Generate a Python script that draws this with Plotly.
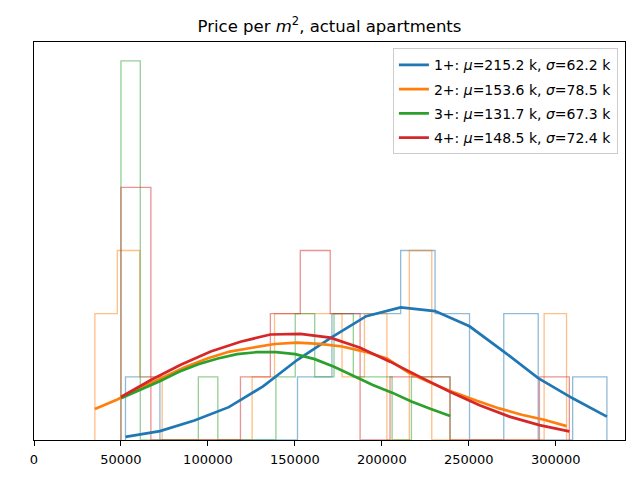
import plotly.graph_objects as go

# ---- data (counts per bin, fitted curve at bin edges) ----
blue_edges = [52600, 72400, 92200, 112000, 131700, 151500, 171300, 191000,
              210800, 230600, 250400, 270100, 289900, 309700, 329400]
blue_counts = [1, 0, 0, 0, 0, 1, 2, 2, 3, 2, 0, 2, 0, 1]
blue_fit = [0.05, 0.14, 0.31, 0.52, 0.85, 1.27, 1.63, 1.96, 2.10, 2.04,
            1.80, 1.40, 0.98, 0.66, 0.37]

orange_edges = [35000, 47900, 60800, 73700, 86700, 99600, 112500, 125400,
                138300, 151200, 164200, 177100, 190000, 202900, 215800,
                228700, 241700, 254600, 267500, 280400, 293300, 306200]
orange_counts = [2, 3, 1, 0, 0, 0, 0, 1, 2, 2, 2, 1, 2, 0, 3, 0, 0, 0, 0, 0, 2]
orange_fit = [0.49, 0.64, 0.82, 0.99, 1.15, 1.29, 1.40, 1.46, 1.52, 1.54,
              1.52, 1.48, 1.40, 1.29, 1.06, 0.90, 0.75, 0.62, 0.50, 0.40,
              0.32, 0.22]

green_edges = [50000, 61100, 72300, 83400, 94500, 105700, 116800, 128000,
               139100, 150200, 161400, 172500, 183600, 194800, 205900,
               217000, 228200, 239300]
green_counts = [6, 0, 0, 0, 1, 0, 0, 0, 1, 2, 1, 2, 1, 1, 0, 1, 1]
green_fit = [0.66, 0.79, 0.93, 1.08, 1.20, 1.29, 1.36, 1.39, 1.39, 1.36,
             1.28, 1.16, 1.02, 0.87, 0.75, 0.61, 0.49, 0.38]

red_edges = [50000, 67200, 84400, 101600, 118700, 135900, 153100, 170300,
             187500, 204700, 221900, 239100, 256200, 273400, 290600, 307800]
red_counts = [4, 0, 0, 0, 1, 2, 3, 2, 0, 1, 1, 0, 0, 0, 1]
red_fit = [0.68, 0.95, 1.19, 1.40, 1.555, 1.67, 1.68, 1.62, 1.46, 1.24,
           1.00, 0.765, 0.55, 0.37, 0.235, 0.137]

labels = ["1+: <i>μ</i>=215.2 k, <i>σ</i>=62.2 k",
          "2+: <i>μ</i>=153.6 k, <i>σ</i>=78.5 k",
          "3+: <i>μ</i>=131.7 k, <i>σ</i>=67.3 k",
          "4+: <i>μ</i>=148.5 k, <i>σ</i>=72.4 k"]

x_ticks = [0, 50000, 100000, 150000, 200000, 250000, 300000]
x_tick_text = ["0", "50000", "100000", "150000", "200000", "250000", "300000"]

colors = [(31, 119, 180), (255, 127, 14), (44, 160, 44), (214, 39, 40)]

series = [(blue_edges, blue_counts, blue_fit),
          (orange_edges, orange_counts, orange_fit),
          (green_edges, green_counts, green_fit),
          (red_edges, red_counts, red_fit)]


def step_path(edges, counts):
    xs = [edges[0]]
    ys = [0]
    for i, c in enumerate(counts):
        xs += [edges[i], edges[i + 1]]
        ys += [c, c]
    xs.append(edges[-1])
    ys.append(0)
    return xs, ys


fig = go.Figure()

# histograms (drawn below the curves)
for (edges, counts, _), (r, g, b) in zip(series, colors):
    xs, ys = step_path(edges, counts)
    fig.add_trace(go.Scatter(x=xs, y=ys, mode="lines",
                             line=dict(color=f"rgba({r},{g},{b},0.5)", width=1.3),
                             showlegend=False, hoverinfo="skip"))

# fitted curves
for i, ((edges, _, fit), (r, g, b)) in enumerate(zip(series, colors)):
    fig.add_trace(go.Scatter(x=edges, y=fit, mode="lines",
                             line=dict(color=f"rgb({r},{g},{b})", width=2.7),
                             name=labels[i], legendgroup=f"g{i}"))

fig.update_layout(
    width=640, height=480,
    margin=dict(l=26, r=23, t=34, b=48),
    paper_bgcolor="white", plot_bgcolor="white",
    font=dict(family="DejaVu Sans", color="black", size=13),
    title=dict(text="Price per <i>m</i><sup>2</sup>, actual apartments",
               x=0.5, xref="paper", xanchor="center",
               y=1 - 18 / 480, yref="container", yanchor="middle",
               font=dict(size=16.5, family="DejaVu Sans", color="black")),
    xaxis=dict(range=[0, 339800], tickvals=x_ticks, ticktext=x_tick_text,
               ticks="outside", ticklen=5, tickwidth=1, tickcolor="black",
               ticklabelstandoff=2, tickfont=dict(size=13),
               showgrid=False, zeroline=False, showline=True, mirror=True,
               linecolor="black", linewidth=1),
    yaxis=dict(range=[0, 6.3], showticklabels=False, ticks="",
               showgrid=False, zeroline=False, showline=True, mirror=True,
               linecolor="black", linewidth=1),
    legend=dict(x=0.988, y=0.984, xanchor="right", yanchor="top",
                bgcolor="rgba(255,255,255,0.8)", bordercolor="#cccccc",
                borderwidth=1, font=dict(size=14), tracegroupgap=3,
                itemwidth=30),
)

fig.write_html("out.html")
